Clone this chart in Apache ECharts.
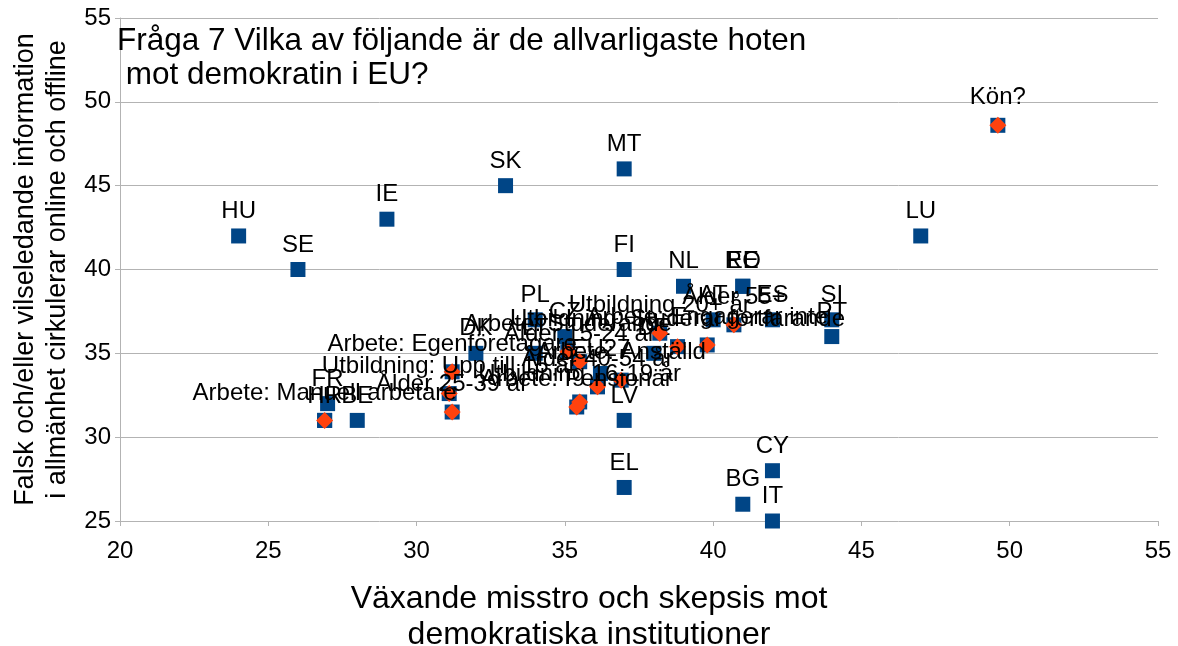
<!DOCTYPE html>
<html>
<head>
<meta charset="utf-8">
<script src="https://cdn.jsdelivr.net/npm/echarts@6/dist/echarts.min.js"></script>
<style>
html, body { margin: 0; padding: 0; background: #fff; }
#main { width: 1178px; height: 646px; }
</style>
</head>
<body>
<div id="main"></div>
<script>
var countries = ['HU','SE','IE','SK','MT','FI','NL','EE','RO','AT','ES','SI','PT','LU','CY','BG','IT','EL','LV','FR','BE','HR','PL','CZ','LT','DK','DE','EU27'];
var countryX = [24, 26, 29, 33, 37, 37, 39, 41, 41, 40, 42, 44, 44, 47, 42, 41, 42, 37, 37, 27, 28, 26.9, 34, 35, 34, 32, 38, 36.2];
var countryY = [42, 40, 43, 45, 46, 40, 39, 39, 39, 37, 37, 37, 36, 42, 28, 26, 25, 27, 31, 32, 31, 31, 37, 36, 35, 35, 35, 33.8];

var groups = ['Kön?','Arbete: Manuell arbetare','Arbete: Egenföretagare','Utbildning: Upp till 15 år','Ålder 25-39 år',
  'Arbete: Studerande','Ålder 15-24 år','Arbete: Anställd','Ålder 40-54 år','Utbildning 16-19 år','Arbete: Pensionär',
  'Utbildning 20+ år','Utbildning: Studerar fortfarande','Ålder 55+','Arbete: Engagerar inte'];
var groupX = [49.6, 26.9, 31.2, 31.1, 31.2, 35.1, 35.5, 36.9, 36.1, 35.5, 35.4, 38.2, 38.8, 40.7, 39.8];
var groupY = [48.6, 31.0, 33.9, 32.6, 31.5, 35.1, 34.5, 33.4, 33.0, 32.1, 31.8, 36.2, 35.4, 36.7, 35.5];

var xTicks = [20, 55, 5];
var yTicks = [25, 55, 5];

var font = 'Liberation Sans, Arial, sans-serif';

var countryData = countries.map(function (c, i) {
  return { name: c, value: [countryX[i], countryY[i]] };
});
// the group points also sit on a blue square underneath
var underData = groups.map(function (g, i) {
  return { name: '', value: [groupX[i], groupY[i]], label: { show: false } };
});
var groupData = groups.map(function (g, i) {
  return { name: g, value: [groupX[i], groupY[i]] };
});

var myChart = echarts.init(document.getElementById('main'));

var option = {
  animation: false,
  backgroundColor: '#ffffff',
  textStyle: { fontFamily: font, color: '#000' },
  title: {
    text: 'Fråga 7 Vilka av följande är de allvarligaste hoten\n mot demokratin i EU?',
    left: 112,
    top: 19,
    textStyle: { fontFamily: font, fontSize: 31.5, fontWeight: 'normal', color: '#000', lineHeight: 34 }
  },
  grid: { left: 120, right: 20, top: 18, bottom: 125, outerBoundsMode: 'none', containLabel: false },
  xAxis: {
    type: 'value',
    min: xTicks[0], max: xTicks[1], interval: xTicks[2],
    name: 'Växande misstro och skepsis mot\ndemokratiska institutioner',
    nameLocation: 'middle',
    nameGap: 60,
    nameTextStyle: { fontFamily: font, fontSize: 32, color: '#000', lineHeight: 36, padding: [0, 100, 0, 0] },
    axisLine: { show: false },
    axisTick: { show: true, length: 5, lineStyle: { color: '#b3b3b3' } },
    axisLabel: { fontFamily: font, fontSize: 24, color: '#000', margin: 18 },
    splitLine: { show: false }
  },
  yAxis: {
    type: 'value',
    min: yTicks[0], max: yTicks[1], interval: yTicks[2],
    name: 'Falsk och/eller vilseledande information\ni allmänhet cirkulerar online och offline',
    nameLocation: 'middle',
    nameRotate: 90,
    nameGap: 41,
    nameTextStyle: { fontFamily: font, fontSize: 27, color: '#000', lineHeight: 32 },
    axisLine: { show: true, lineStyle: { color: '#b3b3b3' } },
    axisTick: { show: true, length: 5, lineStyle: { color: '#b3b3b3' } },
    axisLabel: { fontFamily: font, fontSize: 24, color: '#000', margin: 9 },
    splitLine: { show: true, lineStyle: { color: '#b3b3b3', width: 1 } }
  },
  series: [
    {
      name: 'Land',
      type: 'scatter',
      symbol: 'rect',
      symbolSize: 15,
      itemStyle: { color: '#004586', opacity: 1 },
      label: {
        show: true, position: 'top', distance: 5,
        formatter: '{b}', fontFamily: font, fontSize: 24, color: '#000'
      },
      data: countryData.concat(underData),
      z: 2
    },
    {
      name: 'Grupp',
      type: 'scatter',
      symbol: 'diamond',
      symbolSize: 17,
      itemStyle: { color: '#ff420e', opacity: 1 },
      label: {
        show: true, position: 'top', distance: 7,
        formatter: '{b}', fontFamily: font, fontSize: 24, color: '#000'
      },
      data: groupData,
      z: 3
    }
  ]
};

myChart.setOption(option);
</script>
</body>
</html>
